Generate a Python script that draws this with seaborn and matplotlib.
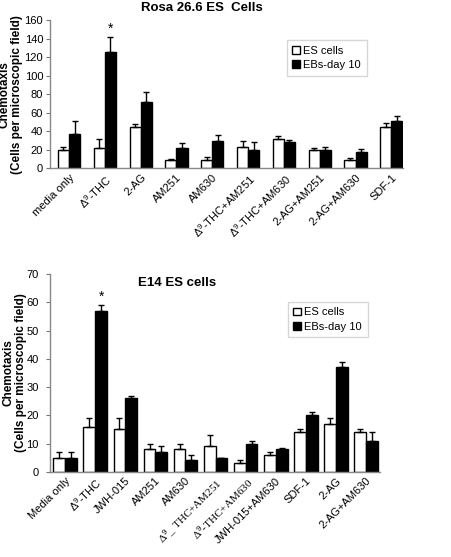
import numpy as np
import pandas as pd
import matplotlib
matplotlib.use('Agg')
import matplotlib.pyplot as plt
import seaborn as sns

### Data

# Rosa 26.6 ES cells (top panel)
rosa_labels = ['media only', 'Δ$^9$-THC', '2-AG', 'AM251', 'AM630',
               'Δ$^9$-THC+AM251', 'Δ$^9$-THC+AM630', '2-AG+AM251',
               '2-AG+AM630', 'SDF-1']
rosa_es = [20, 22, 44, 9, 9, 23, 32, 20, 9, 44]
rosa_es_err = [3, 10, 4, 1, 3, 6, 3, 2, 2, 5]
rosa_eb = [37, 126, 71, 22, 29, 20, 28, 20, 18, 51]
rosa_eb_err = [14, 16, 11, 5, 7, 8, 3, 3, 3, 5]

# E14 ES cells (bottom panel)
e14_labels = ['Media only', 'Δ$^9$-THC', 'JWH-015', 'AM251', 'AM630',
              'Δ$^9$_ THC+AM251', 'Δ$^9$-THC+AM630', 'JWH-015+AM630',
              'SDF-1', '2-AG', '2-AG+AM630']
e14_es = [5, 16, 15, 8, 8, 9, 3, 6, 14, 17, 14]
e14_es_err = [2, 3, 4, 2, 2, 4, 1, 1, 1, 2, 1]
e14_eb = [5, 57, 26, 7, 4, 5, 10, 8, 20, 37, 11]
e14_eb_err = [2, 2, 1, 2, 2, 0, 1, 0.5, 1, 2, 3]

# tick labels that are printed in a serif face in the original
e14_serif = ['Δ$^9$_ THC+AM251', 'Δ$^9$-THC+AM630']

series = ['ES cells', 'EBs-day 10']
colors = {'ES cells': 'white', 'EBs-day 10': 'black'}


plt.rcParams['font.family'] = ['Liberation Sans', 'DejaVu Sans']
plt.rcParams['mathtext.fontset'] = 'custom'
plt.rcParams['mathtext.rm'] = 'Liberation Sans'
plt.rcParams['mathtext.it'] = 'Liberation Sans'
plt.rcParams['mathtext.default'] = 'rm'


def draw_panel(ax, labels, es, es_err, eb, eb_err, width, ymax, ystep,
               star_idx, ypad):
    df = pd.DataFrame({
        'treatment': labels * 2,
        'cells': [series[0]] * len(labels) + [series[1]] * len(labels),
        'value': es + eb,
    })
    sns.barplot(data=df, x='treatment', y='value', hue='cells',
                hue_order=series, palette=colors, edgecolor='black',
                linewidth=1, width=width, errorbar=None, ax=ax)

    # one-sided error bars on top of each bar
    for cont, err in zip(ax.containers, [es_err, eb_err]):
        xs = [p.get_x() + p.get_width() / 2 for p in cont.patches]
        ys = [p.get_height() for p in cont.patches]
        ax.errorbar(xs, ys, yerr=[np.zeros(len(err)), err], fmt='none',
                    ecolor='black', elinewidth=1, capsize=2.5, capthick=1)

    # significance star over the EB bar
    p = ax.containers[1].patches[star_idx]
    ax.annotate('*', (p.get_x() + p.get_width() / 2,
                      eb[star_idx] + eb_err[star_idx]),
                xytext=(0, 1), textcoords='offset points',
                ha='center', va='bottom', fontsize=10)

    ax.set_ylim(0, ymax)
    ax.set_yticks(np.arange(0, ymax + 1, ystep))
    ax.set_xlabel('')
    ax.set_ylabel('Chemotaxis\n(Cells per microscopic field)',
                  fontweight='bold', fontsize=8.5, linespacing=1.0)
    ax.set_xticks(range(len(labels)))
    ax.set_xticklabels(labels, rotation=45, ha='right',
                       rotation_mode='anchor', fontsize=8)
    ax.tick_params(axis='x', length=0, pad=3)
    ax.tick_params(axis='y', labelsize=8, length=3, width=0.8,
                   color='#777777', pad=ypad)
    for side in ['top', 'right']:
        ax.spines[side].set_visible(False)
    for side in ['left', 'bottom']:
        ax.spines[side].set_color('#888888')
        ax.spines[side].set_linewidth(1)


def style_legend(ax, anchor):
    ax.legend(loc='upper left', bbox_to_anchor=anchor, fontsize=8,
              frameon=True, fancybox=False, edgecolor='#cccccc',
              handlelength=0.7, handleheight=0.7, handletextpad=0.3,
              borderpad=0.5, labelspacing=0.4, borderaxespad=0)


f = plt.figure(figsize=(4.51, 5.57), dpi=100)

# top panel
ax1 = f.add_axes([0.111, 0.698, 0.783, 0.266])
draw_panel(ax1, rosa_labels, rosa_es, rosa_es_err, rosa_eb, rosa_eb_err,
           0.62, 160, 20, 1, 2)
ax1.set_xlim(-0.53, 9.33)
ax1.text(0.43, 1.08, 'Rosa 26.6 ES  Cells', transform=ax1.transAxes,
         ha='center', va='center', fontsize=9.5, fontweight='bold')
style_legend(ax1, (0.67, 0.865))
ax1.yaxis.set_label_coords(-0.077, 0.5)

# bottom panel
ax2 = f.add_axes([0.111, 0.153, 0.732, 0.355])
draw_panel(ax2, e14_labels, e14_es, e14_es_err, e14_eb, e14_eb_err,
           0.78, 70, 10, 1, 5)
ax2.set_xlim(-0.5, 10.47)
for t in ax2.get_xticklabels():
    if t.get_text() in e14_serif:
        t.set_fontfamily('Liberation Serif')
ax2.text(0.384, 0.955, 'E14 ES cells', transform=ax2.transAxes,
         ha='center', va='center', fontsize=9.5, fontweight='bold')
style_legend(ax2, (0.72, 0.86))
ax2.yaxis.set_label_coords(-0.07, 0.5)

plt.savefig('out.png', dpi=100)
